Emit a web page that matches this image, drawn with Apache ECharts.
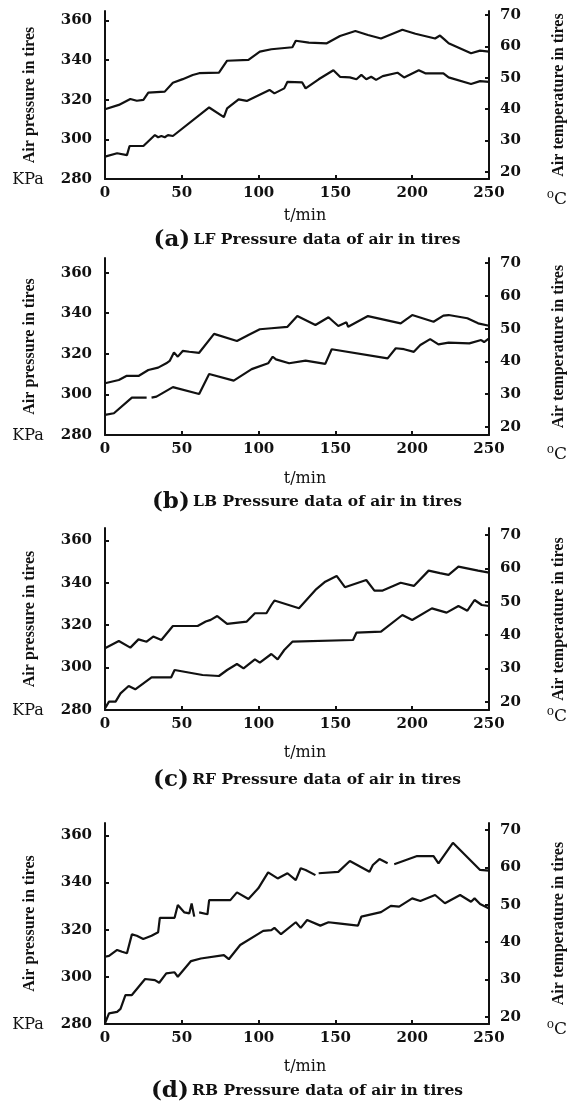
<!DOCTYPE html>
<html>
<head>
<meta charset="utf-8">
<script src="https://cdn.jsdelivr.net/npm/echarts@6/dist/echarts.min.js"></script>
<style>
html,body{margin:0;padding:0;background:#fff;}
#chart{width:575px;height:1104px;}
</style>
</head>
<body>
<div id="chart"></div>
<script>
// ---------------- DATA ----------------
const xTickValues = [0, 50, 100, 150, 200, 250];
const pressureTicks = [280, 300, 320, 340, 360];
const tempTicks = [20, 30, 40, 50, 60, 70];
const panelLetters = ['(a)', '(b)', '(c)', '(d)'];
const panelCaptions = ['LF Pressure data of air in tires', 'LB Pressure data of air in tires',
  'RF Pressure data of air in tires', 'RB Pressure data of air in tires'];

// (a) LF
const lfPressTime = [0, 9, 16.5, 20.7, 25, 28.2, 38.9, 44.2, 50.6, 57.1, 61.3, 74.2, 79.5, 93.4, 100.8, 108.3, 122, 124.2, 132.7, 144.4, 153, 163, 171.2, 179.7, 193.6, 202.1, 214.9, 218.1, 221.3, 223.7, 238.3, 244.2, 250];
const lfPress = [315.2, 317.4, 320.4, 319.5, 319.9, 323.6, 324.1, 328.6, 330.4, 332.5, 333.4, 333.7, 339.7, 340.1, 344.3, 345.5, 346.5, 349.8, 348.8, 348.5, 352.2, 354.7, 352.7, 350.9, 355.3, 353.3, 350.9, 352.4, 350.2, 348.5, 343.5, 344.8, 344.3];
const lfTempTime = [0, 7.9, 14.3, 16, 25, 32.5, 34.6, 36.7, 38.9, 41, 44.2, 67.8, 77.4, 79.5, 87, 92.3, 107.1, 110.3, 116.7, 118.8, 128.4, 130.6, 139.1, 148.7, 153, 159.4, 163.7, 166.9, 170.1, 173.3, 176.5, 180.8, 190.4, 194.7, 204.3, 208.5, 220.3, 223.7, 238.3, 244.2, 250];
const lfTemp = [24.8, 25.9, 25.3, 28.2, 28.2, 31.7, 31, 31.4, 31, 31.7, 31.4, 40.5, 37.4, 40.2, 43.1, 42.6, 46.1, 45, 46.6, 48.7, 48.5, 46.6, 49.5, 52.4, 50.3, 50.1, 49.5, 50.9, 49.5, 50.3, 49.3, 50.5, 51.6, 50.1, 52.4, 51.4, 51.4, 50.1, 48, 48.9, 48.7];

// (b) LB
const lbPressTime = [0, 9, 13.9, 21.8, 28.2, 34.6, 39.9, 42.1, 44.9, 47.4, 50.6, 54.9, 61.3, 71, 85.9, 93.4, 100.8, 108.3, 118.8, 125.2, 137, 145.5, 151.9, 157.2, 158.3, 171.2, 192.5, 200, 213.9, 220.3, 223.7, 235.9, 242.9, 250];
const lbPress = [305.5, 307.1, 309.1, 309.1, 312, 313.2, 315.3, 316.5, 320.7, 318.6, 321.4, 321, 320.5, 329.8, 326.3, 329.3, 332.1, 332.6, 333.3, 338.6, 334.2, 338, 333.7, 335.5, 333.3, 338.6, 335, 339.1, 335.8, 338.8, 339.1, 337.5, 335, 333.8];
const lbTempTime = [0, 5.8, 17.5, 27.1, 28.7, 30.3, 33.5, 44.2, 61.3, 67.8, 83.8, 95.5, 106.2, 109.2, 111.3, 119.9, 130.6, 143.4, 147.6, 184, 189.3, 194.7, 201.1, 205.3, 211.7, 217.1, 223.7, 237.2, 244.9, 246.8, 250];
const lbTemp = [23.6, 24.1, 28.9, 28.9, null, 28.9, 29.2, 32.1, 30, 36.1, 34.1, 37.6, 39.4, 41.4, 40.6, 39.4, 40.2, 39.2, 43.7, 40.9, 44, 43.7, 42.9, 45, 46.8, 45.2, 45.7, 45.5, 46.5, 45.9, 47];

// (c) RF
const rfPressTime = [0, 9, 16.5, 21.8, 27.1, 31.4, 36.7, 44.2, 60.3, 65.6, 68.8, 73.1, 79.5, 92.3, 97.6, 105.1, 108.3, 110.3, 126.3, 137, 143.4, 150.8, 156.2, 170.1, 175.4, 180.8, 192.5, 201.1, 210.7, 218.1, 223.7, 230.1, 242.9, 250];
const rfPress = [309.1, 312.5, 309.4, 313.3, 312.2, 314.6, 313, 319.6, 319.6, 321.7, 322.5, 324.3, 320.6, 321.7, 325.6, 325.6, 329.5, 331.6, 328, 336.6, 340.5, 343.2, 337.9, 341.3, 336.3, 336.3, 340, 338.5, 345.7, 344.5, 343.7, 347.6, 345.7, 344.8];
const rfTempTime = [0, 2.6, 6.9, 10.1, 15.4, 19.7, 30.3, 43.1, 45.3, 46.3, 63.5, 74.2, 79.5, 85.9, 90.2, 97.6, 100.8, 108.3, 112.4, 116.7, 122, 161.5, 163.7, 179.7, 193.6, 200, 212.8, 222.4, 230.1, 235.9, 240.6, 245.3, 250];
const rfTemp = [18, 20, 20, 22.5, 24.7, 23.7, 27.3, 27.3, 29.5, 29, 28, 27.7, 29.5, 31.3, 30, 32.7, 31.7, 34.3, 32.7, 35.5, 38, 38.5, 40.7, 41, 46, 44.5, 48, 46.7, 48.7, 47.3, 50.5, 49, 48.7];

// (d) RB
const rbPressTime = [0, 2.6, 7.9, 11.1, 14.3, 17.5, 20.7, 24.9, 30.3, 34.6, 35.7, 45.3, 47.4, 51.7, 54.9, 56.4, 58.1, 59.7, 61.3, 66.7, 67.8, 81.6, 85.9, 93.4, 99.8, 106.2, 112.4, 118.8, 124.2, 127.4, 130.6, 137, 138, 139.1, 151.9, 159.4, 172.2, 174.4, 178.7, 184, 186, 188.3, 203.2, 213.9, 217.1, 226.5, 244.2, 250];
const rbPress = [308.5, 308.9, 311.4, 310.6, 310, 318, 317.4, 316, 317.4, 318.9, 325, 325, 330.4, 327.3, 326.9, 331.1, 325.5, null, 327.3, 326.5, 332.5, 332.5, 335.8, 333, 337.5, 344.3, 341.7, 343.9, 341, 346, 345.3, 343.1, null, 343.9, 344.5, 349.1, 344.5, 347.4, 349.9, 348.1, null, 347.7, 351.2, 351.2, 348.1, 356.8, 345.3, 345];
const rbTempTime = [0, 2.6, 7.9, 10.1, 13.3, 17.5, 26.1, 32.5, 35.3, 39.9, 45.3, 47.4, 56, 62.4, 77.4, 80.6, 88, 103, 108.3, 110.3, 114.6, 124.2, 127.4, 131.6, 140.2, 145.5, 151.9, 164.7, 166.9, 179.7, 186.1, 191.5, 200, 205.3, 214.9, 221.3, 231.2, 238.3, 240.6, 244.2, 250];
const rbTemp = [18.2, 20.9, 21.3, 22.1, 25.8, 25.8, 30.1, 29.8, 29.1, 31.6, 31.9, 30.7, 34.9, 35.6, 36.5, 35.4, 39.2, 43, 43.2, 43.8, 42.1, 45.3, 43.8, 45.9, 44.4, 45.3, 45, 44.4, 46.8, 48, 49.7, 49.5, 51.7, 51, 52.6, 50.4, 52.6, 50.8, 51.7, 50.2, 49];

// ---------------- LAYOUT (not data) ----------------
const layout = [
  {top: 11,  height: 168, pMax: 364.8, tMin: 17.67, tMax: 71.3, tminY: 216, capY: 240, degY: 200},
  {top: 258, height: 177, pMax: 367.2, tMin: 17.46, tMax: 71.6, tminY: 479, capY: 502, degY: 455},
  {top: 528, height: 182, pMax: 365.8, tMin: 17.5,  tMax: 72.1, tminY: 753, capY: 780, degY: 717},
  {top: 823, height: 201, pMax: 365.2, tMin: 18.04, tMax: 71.9, tminY: 1067, capY: 1091, degY: 1030}
];
const seriesSets = [
  [lfPressTime, lfPress, lfTempTime, lfTemp],
  [lbPressTime, lbPress, lbTempTime, lbTemp],
  [rfPressTime, rfPress, rfTempTime, rfTemp],
  [rbPressTime, rbPress, rbTempTime, rbTemp]
];

const INK = '#111';
const SERIF = "'DejaVu Serif', serif";
const zip = (a, b) => a.map((t, i) => [t, b[i]]);

const grids = [], xAxes = [], yAxes = [], series = [], graphics = [];
layout.forEach((L, i) => {
  grids.push({left: 105, right: 80, top: L.top, height: L.height});
  xAxes.push({
    type: 'value', gridIndex: i, min: 0, max: 250, interval: 50,
    axisLine: {show: true, onZero: false, lineStyle: {color: INK, width: 2}},
    axisTick: {show: true, inside: true, length: 4, lineStyle: {color: INK, width: 2}},
    axisLabel: {margin: 7, color: INK, fontFamily: SERIF, fontWeight: 'bold', fontSize: 15},
    splitLine: {show: false}
  });
  yAxes.push({
    type: 'value', gridIndex: i, position: 'left', min: 280, max: L.pMax,
    name: 'Air pressure in tires', nameLocation: 'middle', nameRotate: 90, nameGap: 67,
    nameTextStyle: {fontFamily: "'Liberation Serif', serif", fontWeight: 'bold', fontSize: 16, color: INK},
    axisLine: {show: true, lineStyle: {color: INK, width: 2}},
    axisTick: {show: true, inside: true, length: 4, customValues: pressureTicks, lineStyle: {color: INK, width: 2}},
    axisLabel: {customValues: pressureTicks, margin: 13, color: INK, fontFamily: SERIF, fontWeight: 'bold', fontSize: 15},
    splitLine: {show: false}
  });
  yAxes.push({
    type: 'value', gridIndex: i, position: 'right', min: L.tMin, max: L.tMax,
    name: 'Air temperature in tires', nameLocation: 'middle', nameRotate: 90, nameGap: 62,
    nameTextStyle: {fontFamily: "'Liberation Serif', serif", fontWeight: 'bold', fontSize: 16, color: INK},
    axisLine: {show: true, lineStyle: {color: INK, width: 2}},
    axisTick: {show: true, inside: true, length: 4, customValues: tempTicks, lineStyle: {color: INK, width: 2}},
    axisLabel: {customValues: tempTicks, margin: 11, color: INK, fontFamily: SERIF, fontWeight: 'bold', fontSize: 15},
    splitLine: {show: false}
  });
  const s = seriesSets[i];
  series.push({
    type: 'line', name: 'pressure', xAxisIndex: i, yAxisIndex: 2 * i, data: zip(s[0], s[1]),
    showSymbol: false, symbol: 'none', connectNulls: false,
    lineStyle: {color: INK, width: 2.2}, animation: false
  });
  series.push({
    type: 'line', name: 'temperature', xAxisIndex: i, yAxisIndex: 2 * i + 1, data: zip(s[2], s[3]),
    showSymbol: false, symbol: 'none', connectNulls: false,
    lineStyle: {color: INK, width: 2.2}, animation: false
  });
  const bottom = L.top + L.height;
  graphics.push({type: 'text', x: 28, y: bottom + 1, style: {text: 'KPa', font: "16px 'DejaVu Serif'", fill: INK, align: 'center', verticalAlign: 'middle'}});
  graphics.push({type: 'text', x: 557, y: L.degY, style: {text: '⁰C', font: "17px 'DejaVu Serif'", fill: INK, align: 'center', verticalAlign: 'middle'}});
  graphics.push({type: 'text', x: 305, y: L.tminY, style: {text: 't/min', font: "16px 'DejaVu Serif'", fill: INK, align: 'center', verticalAlign: 'middle'}});
  graphics.push({type: 'text', x: 307, y: L.capY, style: {
    text: '{p|' + panelLetters[i] + '} {t|' + panelCaptions[i] + '}',
    align: 'center', verticalAlign: 'middle', fill: INK,
    rich: {
      p: {font: "bold 23px 'DejaVu Serif'", fill: INK},
      t: {font: "bold 15.5px 'DejaVu Serif'", fill: INK}
    }
  }});
});

const chart = echarts.init(document.getElementById('chart'), null, {renderer: 'canvas'});
chart.setOption({
  animation: false,
  backgroundColor: '#fff',
  grid: grids,
  xAxis: xAxes,
  yAxis: yAxes,
  series: series,
  graphic: graphics
});
</script>
</body>
</html>
